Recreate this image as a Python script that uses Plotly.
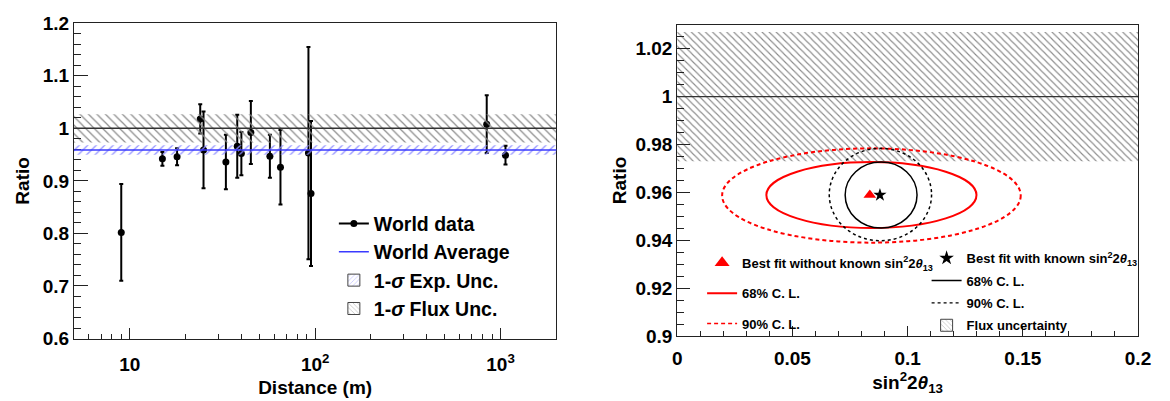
import math
import plotly.graph_objects as go

# ---------------- Left panel: world reactor data ----------------
distance = [9, 15, 18, 24, 25, 33, 38, 40, 45, 57, 65, 92, 95, 842, 1063]
ratio = [0.802, 0.942, 0.946, 1.018, 0.959, 0.936, 0.966, 0.952, 0.992,
         0.947, 0.926, 0.953, 0.876, 1.008, 0.949]
ratio_err = [0.092, 0.013, 0.016, 0.028, 0.073, 0.052, 0.060, 0.041, 0.060,
             0.041, 0.071, 0.202, 0.138, 0.055, 0.018]
world_avg = 0.959
world_avg_err = 0.009
flux_center = 1.0
flux_err = 0.027

left_x_range = [5, 2000]
left_y_range = [0.6, 1.2]
left_x_ticks = [10, 100, 1000]
left_x_ticktext = ["10", "10<sup>2</sup>", "10<sup>3</sup>"]
left_x_minor = [6, 7, 8, 9, 20, 30, 40, 50, 60, 70, 80, 90,
                200, 300, 400, 500, 600, 700, 800, 900, 2000]
left_y_ticks = [0.6, 0.7, 0.8, 0.9, 1.0, 1.1, 1.2]
left_y_ticktext = ["0.6", "0.7", "0.8", "0.9", "1", "1.1", "1.2"]

# ---------------- Right panel: fit results ----------------
fit_free = [0.0836, 0.9589]    # best fit without known sin^2 2theta13
fit_known = [0.0880, 0.9589]   # best fit with known sin^2 2theta13
contour_names = ["free68", "free90", "known68", "known90"]
contour_cx = [0.0843, 0.0843, 0.0885, 0.0882]
contour_cy = [0.9589, 0.9587, 0.9589, 0.9591]
contour_ax = [0.0456, 0.0648, 0.0156, 0.0222]
contour_ay = [0.0138, 0.0197, 0.0138, 0.0193]

right_x_range = [0.0, 0.2]
right_y_range = [0.9, 1.03]
right_x_ticks = [0, 0.05, 0.1, 0.15, 0.2]
right_x_ticktext = ["0", "0.05", "0.1", "0.15", "0.2"]
right_y_ticks = [0.9, 0.92, 0.94, 0.96, 0.98, 1.0, 1.02]
right_y_ticktext = ["0.9", "0.92", "0.94", "0.96", "0.98", "1", "1.02"]

# ---------------- styles ----------------
FONT = "Liberation Sans, Arial, Helvetica, sans-serif"
W, H = 1170, 401
RED = "#ff0000"
BLUE_LINE = "#3a3aff"
BLUE_HATCH = "#8f8fff"
GRAY_HATCH = "#8a8a8a"
contour_styles = {
    "free68": dict(color=RED, width=2, dash="solid"),
    "free90": dict(color=RED, width=2, dash="4px,3px"),
    "known68": dict(color="black", width=1.5, dash="solid"),
    "known90": dict(color="black", width=1.5, dash="3px,3px"),
}

fig = go.Figure()

# hatched bands (left, on an overlaying unit axis spanning the full width)
fig.add_trace(go.Bar(
    x=[0.5], width=[1], base=[flux_center - flux_err], y=[2 * flux_err],
    xaxis="x3", yaxis="y", showlegend=False, hoverinfo="skip",
    marker=dict(color="rgba(0,0,0,0)", line=dict(width=0),
                pattern=dict(shape="\\", fgcolor=GRAY_HATCH, bgcolor="rgba(0,0,0,0)",
                             size=6, solidity=0.2, fillmode="replace")),
))
fig.add_trace(go.Bar(
    x=[0.5], width=[1], base=[world_avg - world_avg_err], y=[2 * world_avg_err],
    xaxis="x3", yaxis="y", showlegend=False, hoverinfo="skip",
    marker=dict(color="rgba(0,0,0,0)", line=dict(width=0),
                pattern=dict(shape="/", fgcolor=BLUE_HATCH, bgcolor="rgba(0,0,0,0)",
                             size=6, solidity=0.2, fillmode="replace")),
))
# flux band (right)
fig.add_trace(go.Bar(
    x=[sum(right_x_range) / 2], width=[right_x_range[1] - right_x_range[0]],
    base=[flux_center - flux_err], y=[2 * flux_err],
    xaxis="x2", yaxis="y2", showlegend=False, hoverinfo="skip",
    marker=dict(color="rgba(0,0,0,0)", line=dict(width=0),
                pattern=dict(shape="\\", fgcolor=GRAY_HATCH, bgcolor="rgba(0,0,0,0)",
                             size=5, solidity=0.22, fillmode="replace")),
))

# world data points
fig.add_trace(go.Scatter(
    x=distance, y=ratio, mode="markers", xaxis="x", yaxis="y", showlegend=False,
    marker=dict(color="black", size=7),
    error_y=dict(type="data", array=ratio_err, color="black", thickness=2, width=2),
))

# best fit markers (right)
fig.add_trace(go.Scatter(
    x=[fit_free[0]], y=[fit_free[1]], mode="markers", xaxis="x2", yaxis="y2",
    showlegend=False, marker=dict(symbol="triangle-up", color=RED, size=11),
))
fig.add_trace(go.Scatter(
    x=[fit_known[0]], y=[fit_known[1]], mode="markers", xaxis="x2", yaxis="y2",
    showlegend=False, marker=dict(symbol="star", color="black", size=10),
))

# ---------------- legend entries ----------------
lfont = dict(family=FONT, size=19.5, color="black", weight="bold")
fig.add_trace(go.Scatter(x=[None], y=[None], mode="lines+markers", name="World data",
                         line=dict(color="black", width=2), marker=dict(color="black", size=7),
                         legend="legend"))
fig.add_trace(go.Scatter(x=[None], y=[None], mode="lines", name="World Average",
                         line=dict(color=BLUE_LINE, width=1.5), legend="legend"))
fig.add_trace(go.Bar(x=[None], y=[None], name="1-<i>σ</i> Exp. Unc.", legend="legend",
                     marker=dict(color="rgba(0,0,0,0)", line=dict(color="#444", width=1),
                                 pattern=dict(shape="/", fgcolor=BLUE_HATCH, bgcolor="white",
                                              size=4, solidity=0.25))))
fig.add_trace(go.Bar(x=[None], y=[None], name="1-<i>σ</i> Flux Unc.", legend="legend",
                     marker=dict(color="rgba(0,0,0,0)", line=dict(color="#444", width=1),
                                 pattern=dict(shape="\\", fgcolor=GRAY_HATCH, bgcolor="white",
                                              size=4, solidity=0.25))))

theta = "sin<sup>2</sup>2<i>θ</i><sub>13</sub>"
fig.add_trace(go.Scatter(x=[None], y=[None], mode="markers", legend="legend2",
                         legendgroup="a1", name="Best fit without known " + theta,
                         marker=dict(symbol="triangle-up", color=RED, size=13)))
fig.add_trace(go.Scatter(x=[None], y=[None], mode="lines", legend="legend2",
                         legendgroup="a2", name="68% C. L.",
                         line=dict(color=RED, width=2)))
fig.add_trace(go.Scatter(x=[None], y=[None], mode="lines", legend="legend2",
                         legendgroup="a3", name="90% C. L.",
                         line=dict(color=RED, width=1.5, dash="4px,3px")))

fig.add_trace(go.Scatter(x=[None], y=[None], mode="markers", legend="legend3",
                         legendgroup="b1", name="Best fit with known " + theta,
                         marker=dict(symbol="star", color="black", size=11)))
fig.add_trace(go.Scatter(x=[None], y=[None], mode="lines", legend="legend3",
                         legendgroup="b2", name="68% C. L.",
                         line=dict(color="black", width=1.5)))
fig.add_trace(go.Scatter(x=[None], y=[None], mode="lines", legend="legend3",
                         legendgroup="b3", name="90% C. L.",
                         line=dict(color="black", width=1.2, dash="3px,3px")))
fig.add_trace(go.Bar(x=[None], y=[None], legend="legend3", legendgroup="b4",
                     name="Flux uncertainty",
                     marker=dict(color="rgba(0,0,0,0)", line=dict(color="#444", width=1),
                                 pattern=dict(shape="\\", fgcolor=GRAY_HATCH, bgcolor="white",
                                              size=4, solidity=0.25))))

# ---------------- shapes: reference lines and contours ----------------
shapes = [
    dict(type="line", xref="x domain", yref="y", x0=0, x1=1, y0=flux_center, y1=flux_center,
         line=dict(color="#333", width=1.5)),
    dict(type="line", xref="x domain", yref="y", x0=0, x1=1, y0=world_avg, y1=world_avg,
         line=dict(color=BLUE_LINE, width=1.5)),
    dict(type="line", xref="x2 domain", yref="y2", x0=0, x1=1, y0=flux_center, y1=flux_center,
         line=dict(color="#333", width=1.2)),
]
for name, cx, cy, ax, ay in zip(contour_names, contour_cx, contour_cy, contour_ax, contour_ay):
    shapes.append(dict(type="circle", xref="x2", yref="y2",
                       x0=cx - ax, x1=cx + ax, y0=cy - ay, y1=cy + ay,
                       line=contour_styles[name], fillcolor="rgba(0,0,0,0)"))

tickfont = dict(family=FONT, size=19, color="black", weight="bold")
titlefont = dict(family=FONT, size=19, color="black", weight="bold")
axis_common = dict(showline=True, mirror=True, linecolor="#222", linewidth=1,
                   showgrid=False, zeroline=False, ticks="inside", tickcolor="#222",
                   tickwidth=1, tickfont=tickfont)

fig.update_layout(
    width=W, height=H,
    margin=dict(l=0, r=0, t=0, b=0),
    paper_bgcolor="white", plot_bgcolor="white",
    font=dict(family=FONT, color="black"),
    barmode="overlay",
    xaxis=dict(**axis_common, domain=[70 / W, 560 / W], anchor="y", type="log",
               range=[math.log10(left_x_range[0]), math.log10(left_x_range[1])],
               tickmode="array", tickvals=left_x_ticks, ticktext=left_x_ticktext,
               ticklen=11, ticklabelstandoff=9,
               minor=dict(tickmode="array", tickvals=left_x_minor, ticks="inside",
                          ticklen=5, tickcolor="#222", tickwidth=1),
               title=dict(text="Distance (m)", font=titlefont, standoff=6)),
    yaxis=dict(**axis_common, domain=[1 - 346.7 / H, 1 - 14 / H], anchor="x",
               range=left_y_range, tickmode="array", tickvals=left_y_ticks,
               ticktext=left_y_ticktext, ticklen=14,
               minor=dict(dtick=0.02, ticks="inside", ticklen=7, tickcolor="#222", tickwidth=1),
               title=dict(text="Ratio", font=titlefont, standoff=8)),
    xaxis3=dict(overlaying="x", anchor="y", range=[0, 1], visible=False, fixedrange=True),
    xaxis2=dict(**axis_common, domain=[682.7 / W, 1150.7 / W], anchor="y2",
                range=right_x_range, tickmode="array", tickvals=right_x_ticks,
                ticktext=right_x_ticktext, ticklen=10, ticklabelstandoff=5,
                minor=dict(dtick=0.01, ticks="inside", ticklen=5, tickcolor="#222", tickwidth=1),
                title=dict(text=theta, font=titlefont, standoff=0)),
    yaxis2=dict(**axis_common, domain=[1 - 344 / H, 1 - 15.7 / H], anchor="x2",
                range=right_y_range, tickmode="array", tickvals=right_y_ticks,
                ticktext=right_y_ticktext, ticklen=13,
                minor=dict(dtick=0.005, ticks="inside", ticklen=7, tickcolor="#222", tickwidth=1),
                title=dict(text="Ratio", font=titlefont, standoff=3)),
    legend=dict(x=334 / W, y=1 - 205 / H, xanchor="left", yanchor="top",
                bgcolor="rgba(0,0,0,0)", borderwidth=0, font=lfont,
                traceorder="normal", itemclick=False),
    legend2=dict(x=708 / W, y=1 - 251 / H, xanchor="left", yanchor="top",
                 bgcolor="rgba(0,0,0,0)", borderwidth=0, tracegroupgap=10.5,
                 font=dict(family=FONT, size=13, color="black", weight="bold")),
    legend3=dict(x=936 / W, y=1 - 246 / H, xanchor="left", yanchor="top",
                 bgcolor="rgba(0,0,0,0)", borderwidth=0, tracegroupgap=2.5,
                 font=dict(family=FONT, size=13, color="black", weight="bold")),
    shapes=shapes,
)

fig.write_html("out.html")
